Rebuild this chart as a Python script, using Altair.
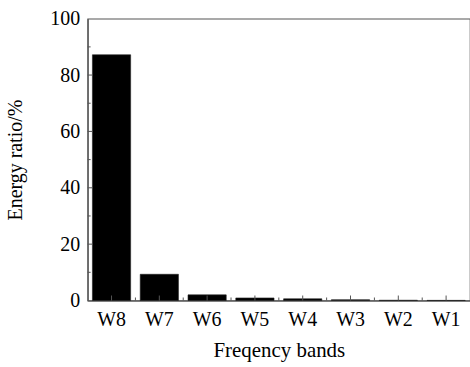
import altair as alt
import pandas as pd

bands = ["W8", "W7", "W6", "W5", "W4", "W3", "W2", "W1"]
ratios = [87.2, 9.3, 2.0, 0.9, 0.6, 0.3, 0.1, 0.05]
y_labels = [0, 20, 40, 60, 80, 100]
y_major = [20, 40, 60, 80]
y_minor = [10, 30, 50, 70, 90]
minor_bands = bands[1:]

W, H = 384, 283
AX = "#555555"
FONT = "Liberation Serif"

df = pd.DataFrame({"band": bands, "ratio": ratios})
xscale = alt.Scale(domain=bands, paddingInner=0.2, paddingOuter=0.1)
yscale = alt.Scale(domain=[0, 100], nice=False)

xaxis = alt.Axis(title="Freqency bands", ticks=False, labelAngle=0,
                 labelPadding=9, titlePadding=10, domainColor=AX, domainWidth=1.2,
                 labelFont=FONT, titleFont=FONT, labelFontSize=20, titleFontSize=21,
                 labelColor="black", titleColor="black", titleFontWeight="normal")
yaxis = alt.Axis(title="Energy ratio/%", values=y_labels, ticks=False, grid=False,
                 labelPadding=8, titlePadding=24, labelFlush=False,
                 domainColor=AX, domainWidth=1.2,
                 labelFont=FONT, titleFont=FONT, labelFontSize=20, titleFontSize=20,
                 labelColor="black", titleColor="black", titleFontWeight="normal")

bars = alt.Chart(df).mark_bar(color="black", stroke="#222222", strokeWidth=0.6).encode(
    x=alt.X("band:N", sort=bands, scale=xscale, axis=xaxis),
    y=alt.Y("ratio:Q", scale=yscale, axis=yaxis),
)

ymaj = alt.Chart(pd.DataFrame({"ratio": y_major})).mark_rule(color=AX).encode(
    y=alt.Y("ratio:Q", scale=yscale, axis=yaxis), x=alt.value(0), x2=alt.value(5))
ymin = alt.Chart(pd.DataFrame({"ratio": y_minor})).mark_rule(color=AX).encode(
    y=alt.Y("ratio:Q", scale=yscale, axis=yaxis), x=alt.value(0), x2=alt.value(3))
xmaj = alt.Chart(pd.DataFrame({"band": bands})).mark_rule(color=AX).encode(
    x=alt.X("band:N", sort=bands, scale=xscale, axis=xaxis), y=alt.value(H), y2=alt.value(H - 5))
xmin = alt.Chart(pd.DataFrame({"band": minor_bands})).mark_rule(color=AX, xOffset=-24).encode(
    x=alt.X("band:N", sort=bands, scale=xscale, axis=xaxis), y=alt.value(H), y2=alt.value(H - 3))

chart = alt.layer(bars, ymaj, ymin, xmaj, xmin).properties(
    width=W, height=H,
    autosize=alt.AutoSizeParams(type="none"),
    padding={"left": 88, "top": 18, "right": 0, "bottom": 66},
).configure_view(stroke=AX, strokeWidth=1.2)

chart.save("out.html", embed_options={"renderer": "svg", "actions": False})
